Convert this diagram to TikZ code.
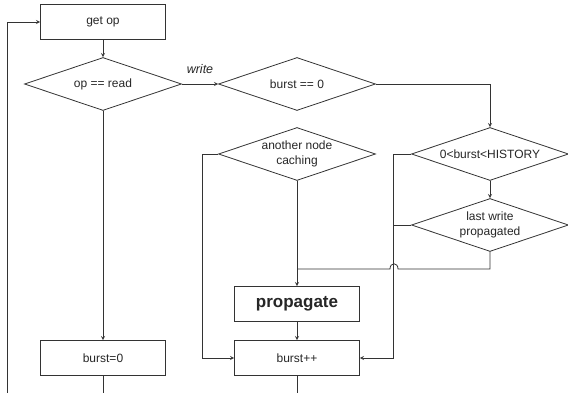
\documentclass[tikz,border=0pt]{standalone}
\usepackage{fontspec}
\setmainfont{Liberation Sans}
\usetikzlibrary{shapes.geometric}

\tikzset{
  proc/.style={draw, minimum width=125pt, minimum height=35pt, inner sep=0pt,
    font=\fontsize{12}{14}\selectfont},
  procbold/.style={proc, font=\fontsize{17}{19}\selectfont\bfseries},
  dec/.style={draw, diamond, aspect=3, inner sep=0pt, minimum width=157pt,
    minimum height=53pt, align=center, font=\fontsize{12}{14.5}\selectfont},
}

\begin{document}
\begin{tikzpicture}[x=1pt, y=-1pt, >=stealth, line width=0.8pt, draw=black!80, text=black!85]
    \useasboundingbox (0,0) rectangle (568,393);

    % 1. boxes and decisions
    \node[proc] (getop) at (103,22) {get op};
    \node[dec] (isread) at (103,84) {op == read};
    \node[dec] (bzero) at (297,84) {burst == 0};
    \node[dec] (caching) at (297,154) {another node\\caching};
    \node[dec] (hist) at (490,154) {0<burst<HISTORY};
    \node[dec] (lastw) at (490,225) {last write\\propagated};
    \node[procbold] (prop) at (297,304) {propagate};
    \node[proc] (binc) at (297,358) {burst++};
    \node[proc] (bset) at (103,358) {burst=0};

    % 2. straight arrows
    \draw[->] (getop) -- (isread);
    \draw[->] (isread) -- (bset);
    \draw[->] (isread) -- (bzero) node[midway, above=7pt, font=\fontsize{12.5}{14}\selectfont\itshape] (wlbl) {write};
    \draw[->] (caching) -- (prop);
    \draw[->] (prop) -- (binc);
    \draw[->] (hist) -- (lastw);
    \draw[->] (bzero.east) -| (hist.north);

    % 3. side paths into burst++
    \draw[->] (caching.west) -- ++(-16,0) |- (binc.west);
    \draw[->] (hist.west) -- ++(-18,0) |- (binc.east);
    \draw (lastw.west) -- ++(-18,0);

    % 4. last write propagated back to propagate, hopping over the line
    \coordinate (join) at (297,269);
    \draw (lastw.south) |- (398,269) .. controls (398,262) and (390,262) .. (390,269) -- (join);

    % 5. loop back to get op
    \coordinate (bout) at (103,393);
    \coordinate (iout) at (297,393);
    \coordinate (loop) at (7,393);
    \draw (bset) -- (bout);
    \draw (binc) -- (iout);
    \draw[->] (loop) |- (getop.west);

\end{tikzpicture}
\end{document}
